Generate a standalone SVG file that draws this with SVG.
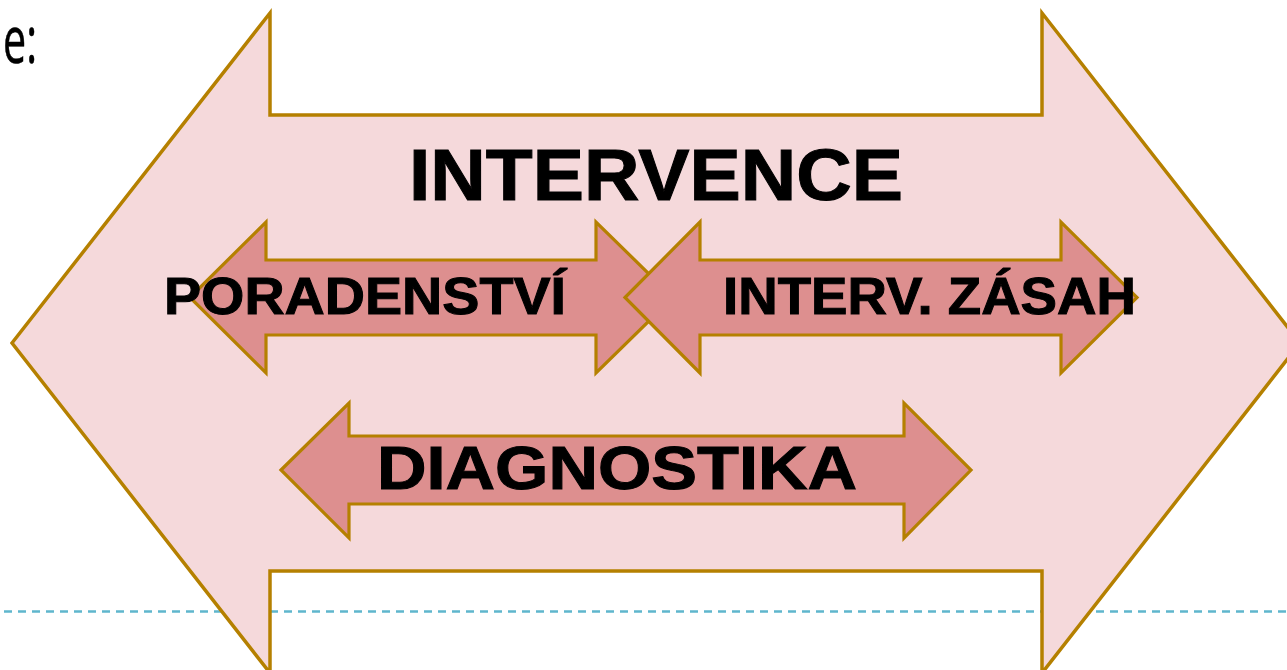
<svg xmlns="http://www.w3.org/2000/svg" width="1287" height="670" viewBox="0 0 1287 670">
  <defs>
    <style>
      .big { fill: #f5d9db; stroke: #b58000; stroke-width: 3.5; stroke-linejoin: miter; }
      .small { fill: #dd8f8f; stroke: #b58000; stroke-width: 3.2; stroke-linejoin: miter; }
      .lbl { font-family: "Liberation Sans", Arial, sans-serif; font-weight: bold; fill: #000; stroke: #000; stroke-width: 1; }
      .dash { stroke: #5fb6cd; stroke-width: 2.5; stroke-dasharray: 8 6; fill: none; }
    </style>
  </defs>
  <rect x="0" y="0" width="1287" height="670" fill="#ffffff"/>
  <g id="connectors">
    <line class="dash" x1="4" y1="611.5" x2="1287" y2="611.5"/>
  </g>
  <g id="heading">
    <text x="3" y="63" font-family="'Open Sans', 'Liberation Sans', sans-serif" font-size="66" fill="#000" stroke="#000" stroke-width="0.6" textLength="34" lengthAdjust="spacingAndGlyphs">e:</text>
  </g>
  <g id="intervence">
    <polygon class="big" points="12,343 270,13 270,115 1042,115 1042,13 1300,343 1042,673 1042,571 270,571 270,673"/>
    <text class="lbl" x="409" y="200" font-size="72" textLength="494" lengthAdjust="spacingAndGlyphs">INTERVENCE</text>
  </g>
  <g id="poradenstvi">
    <polygon class="small" points="190,297.5 266,222 266,260 596,260 596,222 673,297.5 596,373 596,335 266,335 266,373"/>
    <text class="lbl" x="164" y="314" font-size="52" textLength="402" lengthAdjust="spacingAndGlyphs">PORADENSTVÍ</text>
  </g>
  <g id="interv-zasah">
    <polygon class="small" points="625,297.5 700,222 700,260 1061,260 1061,222 1137,297.5 1061,373 1061,335 700,335 700,373"/>
    <text class="lbl" x="723" y="314" font-size="52" textLength="413" lengthAdjust="spacingAndGlyphs">INTERV. ZÁSAH</text>
  </g>
  <g id="diagnostika">
    <polygon class="small" points="281,470 349,403 349,436 904,436 904,403 971,470 904,538 904,504 349,504 349,538"/>
    <text class="lbl" x="377" y="489" font-size="62" textLength="480" lengthAdjust="spacingAndGlyphs">DIAGNOSTIKA</text>
  </g>
</svg>
